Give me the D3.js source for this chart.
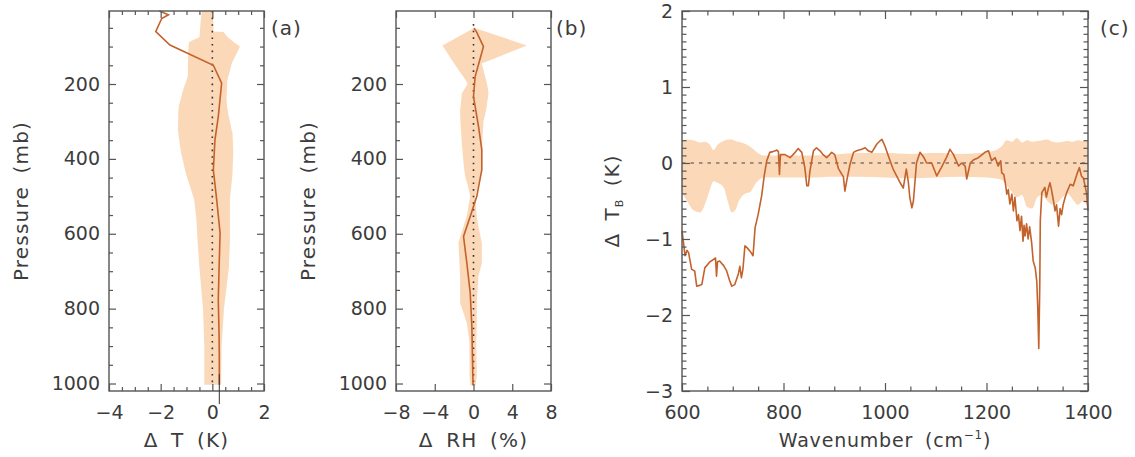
<!DOCTYPE html>
<html><head><meta charset="utf-8">
<script src="https://cdn.jsdelivr.net/npm/d3@7"></script>
<style>
body{margin:0;background:#fff;}
text{font-family:"DejaVu Sans",sans-serif;fill:#3c3c3c;}
.title{letter-spacing:1.2px;word-spacing:5px;}
</style></head>
<body><svg id="c" width="1135" height="457"></svg>
<script>
// ---------- Panel (a): temperature difference profile ----------
const aBandP  = [5, 40, 60, 61, 75, 88, 100, 110, 145, 180, 190, 220, 240, 260, 280, 320, 330, 380, 440, 509, 560, 620, 690, 800, 900, 1003];
const aBandLo = [-0.41,-0.46,-0.48,-0.48,-0.50,-0.90,-0.92,-0.93,-0.94,-0.95,-1.00,-1.15,-1.22,-1.30,-1.32,-1.33,-1.32,-1.22,-1.02,-0.70,-0.62,-0.57,-0.50,-0.36,-0.31,-0.31];
const aBandHi = [0.04,0.04,0.04,0.43,0.60,0.82,1.07,1.00,0.75,0.62,0.58,0.56,0.55,0.57,0.62,0.74,0.78,0.81,0.78,0.68,0.68,0.68,0.64,0.45,0.36,0.34];
const aMeanP  = [5, 15, 25, 60, 96, 150, 198, 287, 350, 430, 510, 598, 696, 776, 865, 927, 1003];
const aMeanT  = [-2.05,-1.70,-1.96,-2.19,-1.64,0.04,0.36,0.23,0.10,0.04,0.17,0.30,0.26,0.23,0.26,0.27,0.27];
const aStemP  = [975, 1055];
const aStemT  = [0.27, 0.27];
const aZeroP  = [5, 1003];
const aXTicks = [-4, -2, 0, 2];

// ---------- Panel (b): relative humidity difference profile ----------
const bBandP  = [51, 97, 145, 190, 200, 225, 270, 300, 360, 420, 447, 470, 500, 554, 580, 625, 678, 714, 785, 838, 891, 980, 1005];
const bBandLo = [0.0,-3.2,-2.0,-0.8,-0.6,-1.2,-1.38,-1.35,-1.2,-1.0,-0.86,-0.6,-0.34,-0.7,-1.03,-1.55,-1.45,-1.38,-1.38,-0.69,-0.41,-0.41,-0.3];
const bBandHi = [0.2,5.5,0.85,1.3,1.4,1.55,1.3,1.03,0.9,0.86,0.7,0.52,0.17,0.34,0.5,0.86,0.86,0.5,0.34,0.34,0.28,0.34,0.2];
const bMeanP  = [51, 60, 100, 180, 234, 314, 376, 429, 500, 554, 607, 678, 758, 847, 980, 1005];
const bMeanRH = [0.05,0.3,1.03,0.17,0.0,0.52,0.86,0.86,0.34,-0.34,-1.03,-0.69,-0.34,-0.17,-0.07,-0.05];
const bZeroP  = [40, 1005];
const bXTicks = [-8, -4, 0, 4, 8];

const pTicks  = [200, 400, 600, 800, 1000];

// ---------- Panel (c): brightness temperature difference spectrum ----------
const cBandW  = [600,610,622,636,645,655,662,670,682,690,698,705,712,725,735,744,752,760,800,850,900,950,1000,1050,1100,1150,1200,1215,1230,1240,1250,1260,1270,1280,1290,1300,1310,1320,1330,1340,1350,1360,1370,1380,1390,1400];
const cBandLo = [-0.39,-0.50,-0.62,-0.65,-0.55,-0.35,-0.24,-0.26,-0.32,-0.50,-0.65,-0.62,-0.50,-0.40,-0.38,-0.28,-0.22,-0.19,-0.19,-0.19,-0.18,-0.18,-0.19,-0.20,-0.19,-0.18,-0.19,-0.20,-0.22,-0.30,-0.38,-0.45,-0.42,-0.58,-0.60,-0.45,-0.42,-0.50,-0.55,-0.52,-0.45,-0.40,-0.48,-0.55,-0.50,-0.58];
const cBandHi = [0.29,0.31,0.30,0.27,0.28,0.24,0.17,0.24,0.29,0.31,0.31,0.29,0.28,0.25,0.21,0.16,0.12,0.10,0.10,0.10,0.11,0.13,0.13,0.12,0.13,0.12,0.14,0.16,0.22,0.30,0.28,0.33,0.27,0.30,0.28,0.29,0.30,0.31,0.28,0.27,0.28,0.29,0.28,0.30,0.29,0.30];
const cMeanW  = [600,603,606,610,613,619,625,629,635,639,645,655,662,666,668,670,674,682,688,694,698,704,711,714,717,720,724,729,734,740,744,750,757,762,767,773,779,784,787,790,792,794,803,813,823,829,836,842,846,849,852,859,865,872,878,885,895,901,908,915,918,921,925,931,938,944,954,961,967,974,984,990,994,1000,1010,1016,1030,1036,1042,1046,1049,1053,1056,1062,1069,1076,1082,1092,1102,1111,1121,1128,1135,1145,1151,1158,1161,1168,1174,1184,1197,1204,1210,1217,1223,1228,1230,1234,1237,1240,1243,1246,1250,1253,1256,1260,1263,1266,1269,1272,1274,1276,1279,1282,1285,1289,1292,1296,1299,1301,1303,1305,1306,1309,1315,1318,1322,1325,1328,1332,1335,1338,1342,1345,1348,1351,1355,1358,1365,1371,1378,1383,1387,1391,1397,1400];
const cMeanTB = [-0.89,-1.05,-1.22,-1.15,-1.18,-1.40,-1.42,-1.62,-1.61,-1.60,-1.38,-1.30,-1.27,-1.25,-1.49,-1.30,-1.29,-1.35,-1.42,-1.55,-1.62,-1.60,-1.46,-1.36,-1.51,-1.40,-1.09,-1.12,-1.16,-1.22,-0.85,-0.68,-0.43,-0.17,0.03,0.14,0.15,0.16,0.17,0.15,-0.15,0.11,0.11,0.07,0.14,0.19,0.14,-0.06,-0.30,-0.30,-0.11,0.16,0.20,0.16,0.11,0.07,0.14,0.11,-0.07,-0.15,-0.18,-0.37,-0.22,-0.02,0.14,0.16,0.18,0.20,0.16,0.14,0.25,0.29,0.31,0.22,0.03,-0.08,-0.26,-0.33,-0.08,-0.25,-0.46,-0.59,-0.50,0.0,0.14,0.08,0.0,0.0,-0.17,-0.06,0.07,0.18,0.11,-0.04,0.0,-0.04,-0.21,0.0,0.04,0.07,0.14,0.16,0.03,0.07,-0.04,0.03,-0.13,-0.15,-0.26,-0.41,-0.35,-0.54,-0.41,-0.63,-0.45,-0.76,-0.68,-0.89,-0.70,-1.03,-0.82,-0.96,-0.80,-1.00,-0.84,-1.05,-1.29,-1.38,-1.55,-1.90,-2.44,-1.60,-0.76,-0.39,-0.32,-0.45,-0.33,-0.26,-0.35,-0.50,-0.63,-0.55,-0.83,-0.60,-0.68,-0.55,-0.45,-0.39,-0.28,-0.30,-0.15,-0.06,-0.17,-0.20,-0.39,-0.63];
const cXTicks = [600, 800, 1000, 1200, 1400];
const cYTicks = [-3, -2, -1, 0, 1, 2];

// ---------- drawing ----------
const svg = d3.select("#c");
svg.append("rect").attr("width",1135).attr("height",457).attr("fill","#fff");
const BAND = "#fbd8b7", LINE = "#c4622c", FRAME = "#555", TXT = "#3c3c3c";
const FS = 19, TFS = 20;

function frame(x0,x1,y0,y1){
  svg.append("rect").attr("x",x0).attr("y",y0).attr("width",x1-x0).attr("height",y1-y0)
    .attr("fill","none").attr("stroke",FRAME).attr("stroke-width",1.4);
}
function axisStyle(g){
  g.select(".domain").remove();
  g.selectAll(".tick line").attr("stroke",FRAME).attr("stroke-width",1.2);
  g.selectAll(".tick text").attr("font-size",FS).attr("fill",TXT).attr("font-family","DejaVu Sans");
}
function ticksAll(x, y, xMaj, xMin, yMaj, yMin, majLen, minLen, xr, yr){
  svg.append("g").attr("transform",`translate(${xr[0]},0)`)
    .call(d3.axisLeft(y).tickValues(yMaj).tickSize(-majLen).tickPadding(9).tickFormat(d3.format("d"))).call(axisStyle);
  svg.append("g").attr("transform",`translate(${xr[0]},0)`)
    .call(d3.axisLeft(y).tickValues(yMin).tickSize(-minLen).tickFormat("")).call(axisStyle);
  svg.append("g").attr("transform",`translate(${xr[1]},0)`)
    .call(d3.axisRight(y).tickValues(yMaj).tickSize(-majLen).tickFormat("")).call(axisStyle);
  svg.append("g").attr("transform",`translate(${xr[1]},0)`)
    .call(d3.axisRight(y).tickValues(yMin).tickSize(-minLen).tickFormat("")).call(axisStyle);
  svg.append("g").attr("transform",`translate(0,${yr[0]})`)
    .call(d3.axisBottom(x).tickValues(xMaj).tickSize(-majLen).tickPadding(15).tickFormat(d3.format("d"))).call(axisStyle);
  if (xMin.length) svg.append("g").attr("transform",`translate(0,${yr[0]})`)
    .call(d3.axisBottom(x).tickValues(xMin).tickSize(-minLen).tickFormat("")).call(axisStyle);
  svg.append("g").attr("transform",`translate(0,${yr[1]})`)
    .call(d3.axisTop(x).tickValues(xMaj).tickSize(-majLen).tickFormat("")).call(axisStyle);
  if (xMin.length) svg.append("g").attr("transform",`translate(0,${yr[1]})`)
    .call(d3.axisTop(x).tickValues(xMin).tickSize(-minLen).tickFormat("")).call(axisStyle);
}
function range(a,b,s){const r=[];for(let v=a;v<=b+1e-9;v+=s)r.push(+v.toFixed(4));return r;}

const Y0 = 391, Y1 = 11;
const yP = d3.scaleLinear().domain([5,1020]).range([Y1,Y0]);
const pMinor = range(50,1000,50).filter(v=>!pTicks.includes(v));

function profilePanel(xs, bandP, lo, hi, meanP, meanV, zeroP, xMaj, xMin, xlab, letter, ylabX, letterX){
  const area = d3.area().y((d,i)=>yP(bandP[i])).x0((d,i)=>xs(lo[i])).x1((d,i)=>xs(hi[i])).curve(d3.curveLinear);
  svg.append("path").attr("d",area(bandP)).attr("fill",BAND).attr("stroke","none");
  svg.append("line").attr("x1",xs(0)).attr("x2",xs(0)).attr("y1",yP(zeroP[0])).attr("y2",yP(zeroP[1]))
    .attr("stroke","#333").attr("stroke-width",1.6).attr("stroke-dasharray","1.6,5");
  const line = d3.line().y((d,i)=>yP(meanP[i])).x((d,i)=>xs(meanV[i]));
  svg.append("path").attr("d",line(meanP)).attr("fill","none").attr("stroke",LINE).attr("stroke-width",1.6);
  const [xa,xb] = xs.range();
  frame(xa,xb,Y1,Y0);
  ticksAll(xs,yP,xMaj,xMin,pTicks,pMinor,7,4,[xa,xb],[Y0,Y1]);
  svg.append("text").attr("class","title").attr("x",(xa+xb)/2).attr("y",447).attr("text-anchor","middle").attr("font-size",TFS).text(xlab);
  svg.append("text").attr("class","title").attr("transform",`translate(${ylabX},${(Y0+Y1)/2}) rotate(-90)`).attr("text-anchor","middle")
    .attr("dy","0.35em").attr("font-size",TFS).text("Pressure (mb)");
  svg.append("text").attr("x",letterX).attr("y",35).attr("font-size",TFS).attr("letter-spacing","1px").text(letter);
}

// Panel a
const xA = d3.scaleLinear().domain([-4,2]).range([109,264]);
profilePanel(xA, aBandP, aBandLo, aBandHi, aMeanP, aMeanT, aZeroP, aXTicks, range(-3.5,1.5,0.5).filter(v=>!aXTicks.includes(v)),
  "Δ T (K)", "(a)", 21, 271);
svg.append("line").attr("x1",xA(aStemT[0])).attr("x2",xA(aStemT[1])).attr("y1",yP(aStemP[0])).attr("y2",yP(aStemP[1]))
  .attr("stroke","#333").attr("stroke-width",1);

// Panel b
const xB = d3.scaleLinear().domain([-8,8]).range([396,551]);
profilePanel(xB, bBandP, bBandLo, bBandHi, bMeanP, bMeanRH, bZeroP, bXTicks, [], "Δ RH (%)", "(b)", 308, 556);

// Panel c
const xC = d3.scaleLinear().domain([600,1400]).range([682,1088]);
const yC = d3.scaleLinear().domain([-3,2]).range([Y0,Y1]);
const cArea = d3.area().x((d,i)=>xC(cBandW[i])).y0((d,i)=>yC(cBandLo[i])).y1((d,i)=>yC(cBandHi[i])).curve(d3.curveMonotoneX);
svg.append("path").attr("d",cArea(cBandW)).attr("fill",BAND);
svg.append("line").attr("x1",xC(600)).attr("x2",xC(1400)).attr("y1",yC(0)).attr("y2",yC(0))
  .attr("stroke","#444").attr("stroke-width",1.2).attr("stroke-dasharray","3.5,5");
const cLine = d3.line().x((d,i)=>xC(cMeanW[i])).y((d,i)=>yC(cMeanTB[i]));
svg.append("path").attr("d",cLine(cMeanW)).attr("fill","none").attr("stroke",LINE).attr("stroke-width",1.6).attr("stroke-linejoin","round");
frame(682,1088,Y1,Y0);
ticksAll(xC,yC,cXTicks,range(650,1350,50).filter(v=>!cXTicks.includes(v)),cYTicks,range(-2.9,1.9,0.1).filter(v=>Math.abs(v-Math.round(v))>1e-6),8,4.5,[682,1088],[Y0,Y1]);
const wl = svg.append("text").attr("x",885).attr("y",447).attr("text-anchor","middle").attr("font-size",19)
  .attr("letter-spacing","0.8px").attr("word-spacing","5px");
wl.append("tspan").text("Wavenumber (cm");
wl.append("tspan").attr("font-size",12).attr("dy",-8).text("−1");
wl.append("tspan").attr("dy",8).text(")");
const yl = svg.append("text").attr("transform",`translate(612,${(Y0+Y1)/2}) rotate(-90)`).attr("text-anchor","middle")
  .attr("dy","0.35em").attr("font-size",TFS).attr("letter-spacing","1px").attr("word-spacing","5px");
yl.append("tspan").text("Δ T");
yl.append("tspan").attr("font-size",11).attr("dy",4).text("B");
yl.append("tspan").attr("dy",-4).text(" (K)");
svg.append("text").attr("x",1100).attr("y",35).attr("font-size",TFS).attr("letter-spacing","1px").text("(c)");
</script></body></html>
